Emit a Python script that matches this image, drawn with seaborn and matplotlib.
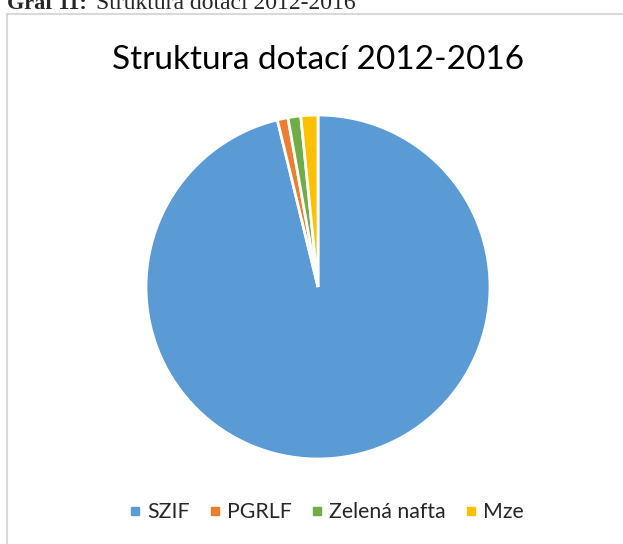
import matplotlib.pyplot as plt
import seaborn as sns
from matplotlib.patches import Rectangle
from matplotlib.lines import Line2D

# data (share of subsidies, %)
labels = ["SZIF", "PGRLF", "Zelená nafta", "Mze"]
values = [96.2, 1.0, 1.2, 1.6]
colors = ["#5B9BD5", "#ED7D31", "#70AD47", "#FFC000"]

sns.set_theme(style="white")
plt.rcParams['font.family'] = ['Lato', 'DejaVu Sans']
palette = sns.color_palette(colors)

W, H = 623, 544
fig = plt.figure(figsize=(W / 100, H / 100), dpi=100)
fig.patch.set_facecolor("white")

# caption above the chart box (partly cut off at the top, as in the source)
fig.text(7 / W, 1 - 9 / H, "Graf 11:", fontsize=16, fontweight="bold",
         family="Liberation Serif", va="baseline", ha="left")
fig.text(96 / W, 1 - 9 / H, "Struktura dotací 2012-2016", fontsize=17,
         family="Liberation Serif", va="baseline", ha="left")

# chart border
fig.add_artist(Rectangle((7 / W, -0.05), 1.1, 1 - 14 / H + 0.05,
                         transform=fig.transFigure, fill=False,
                         edgecolor="#d9d9d9", lw=1.5))

fig.text(318 / W, 1 - 60 / H, "Struktura dotací 2012-2016", fontsize=24,
         ha="center", va="center", color="black")

cx, cy, r = 318, 287, 172
ax = fig.add_axes([(cx - r) / W, 1 - (cy + r) / H, 2 * r / W, 2 * r / H])
ax.pie(values, colors=palette, startangle=90, counterclock=False,
       wedgeprops=dict(edgecolor="white", linewidth=2))
ax.set_xlim(-1.0, 1.0)
ax.set_ylim(-1.0, 1.0)
ax.set_aspect("equal")
ax.axis("off")

handles = [Line2D([], [], marker="s", linestyle="", markersize=6,
                  markerfacecolor=c, markeredgecolor=c) for c in palette]
fig.legend(handles, labels, loc="center", bbox_to_anchor=(325 / W, 1 - 512 / H),
           ncol=4, frameon=False, fontsize=15.3, handletextpad=0.15,
           columnspacing=0.8, handlelength=0.8)

fig.savefig("out.png", dpi=100)
